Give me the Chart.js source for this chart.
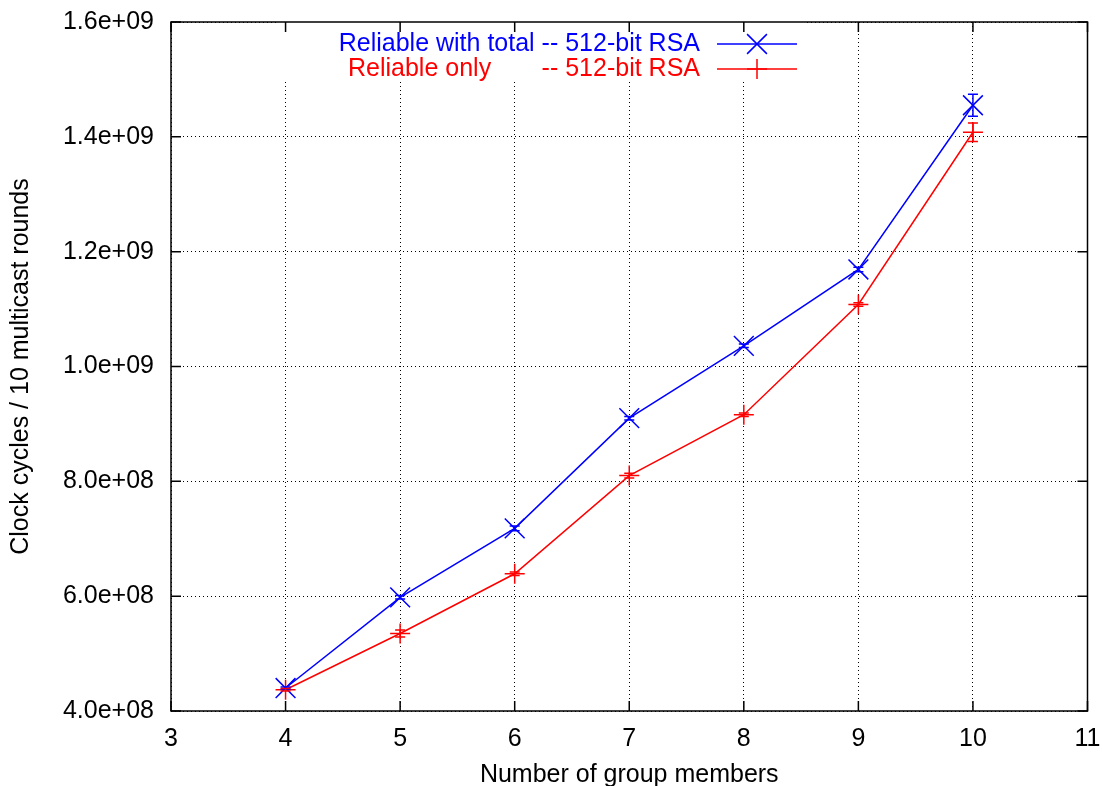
<!DOCTYPE html>
<html>
<head>
<meta charset="utf-8">
<script src="https://cdn.jsdelivr.net/npm/chart.js@4.4.1/dist/chart.umd.min.js"></script>
<style>
  html, body { margin: 0; padding: 0; background: #fff; }
  #wrap { width: 1103px; height: 786px; }
</style>
</head>
<body>
<div id="wrap"><canvas id="mainChart" width="1103" height="786"></canvas></div>
<script>
// group sizes and clock cycles per 10 multicast rounds
const members = [4, 5, 6, 7, 8, 9, 10];
const totalCycles = [4.40e8, 5.98e8, 7.18e8, 9.10e8, 1.036e9, 1.169e9, 1.455e9];
const totalErr = [2e6, 3e6, 4e6, 3e6, 3e6, 4e6, 1.9e7];
const reliableCycles = [4.37e8, 5.35e8, 6.39e8, 8.10e8, 9.16e8, 1.108e9, 1.408e9];
const reliableErr = [2e6, 6e6, 3e6, 4e6, 3e6, 3e6, 1.6e7];

const xTickLabels = ['3', '4', '5', '6', '7', '8', '9', '10', '11'];
const yTickLabels = ['4.0e+08', '6.0e+08', '8.0e+08', '1.0e+09', '1.2e+09', '1.4e+09', '1.6e+09'];

const FONT = '"Liberation Sans", Arial, Helvetica, sans-serif';
const BLUE = '#0000ff', RED = '#ff0000';

const pts = (xs, ys) => xs.map((x, i) => ({ x, y: ys[i] }));

// gnuplot look: white key box, frame with inward ticks, error bars, key
const gnuplotBits = {
  id: 'gnuplotBits',
  beforeDatasetsDraw(c) {
    const { ctx, chartArea: a, scales: { x, y } } = c;
    ctx.save();
    // key box hides the grid behind it
    ctx.fillStyle = '#fff';
    ctx.fillRect(276, a.top, 530, 60);
    // frame
    ctx.strokeStyle = '#000';
    ctx.lineWidth = 1.5;
    ctx.setLineDash([]);
    ctx.strokeRect(a.left, a.top, a.right - a.left, a.bottom - a.top);
    // inward ticks on all sides
    ctx.beginPath();
    x.ticks.forEach(t => {
      const px = x.getPixelForValue(t.value);
      ctx.moveTo(px, a.bottom); ctx.lineTo(px, a.bottom - 10);
      ctx.moveTo(px, a.top); ctx.lineTo(px, a.top + 10);
    });
    y.ticks.forEach(t => {
      const py = y.getPixelForValue(t.value);
      ctx.moveTo(a.left, py); ctx.lineTo(a.left + 10, py);
      ctx.moveTo(a.right, py); ctx.lineTo(a.right - 10, py);
    });
    ctx.stroke();
    ctx.restore();
  },
  afterDatasetsDraw(c) {
    const { ctx, scales: { x, y } } = c;
    ctx.save();
    ctx.lineWidth = 1.5;
    [[totalCycles, totalErr, BLUE], [reliableCycles, reliableErr, RED]].forEach(([vals, errs, col]) => {
      ctx.strokeStyle = col;
      ctx.beginPath();
      members.forEach((m, i) => {
        const px = x.getPixelForValue(m);
        const y1 = y.getPixelForValue(vals[i] + errs[i]);
        const y0 = y.getPixelForValue(vals[i] - errs[i]);
        ctx.moveTo(px, y0); ctx.lineTo(px, y1);
        ctx.moveTo(px - 5, y0); ctx.lineTo(px + 5, y0);
        ctx.moveTo(px - 5, y1); ctx.lineTo(px + 5, y1);
      });
      ctx.stroke();
    });

    // key
    ctx.font = '25px ' + FONT;
    ctx.textBaseline = 'middle';
    const rows = [
      { y: 44, col: BLUE, style: 'crossRot', r: 14 },
      { y: 69, col: RED, style: 'cross', r: 10 }
    ];
    ctx.fillStyle = BLUE;
    ctx.textAlign = 'right';
    ctx.fillText('Reliable with total -- 512-bit RSA', 700, rows[0].y);
    ctx.fillStyle = RED;
    ctx.fillText('-- 512-bit RSA', 700, rows[1].y);
    ctx.textAlign = 'left';
    ctx.fillText('Reliable only', 348, rows[1].y);
    rows.forEach(r => {
      ctx.strokeStyle = r.col;
      ctx.beginPath();
      ctx.moveTo(717, r.y); ctx.lineTo(797, r.y);
      ctx.stroke();
      Chart.helpers.drawPoint(ctx, { pointStyle: r.style, radius: r.r, borderWidth: 1.5 }, 757, r.y);
    });
    ctx.restore();
  }
};

const chart = new Chart(document.getElementById('mainChart'), {
  type: 'scatter',
  data: {
    datasets: [
      {
        label: 'Reliable with total -- 512-bit RSA',
        data: pts(members, totalCycles),
        showLine: true,
        borderColor: BLUE,
        backgroundColor: BLUE,
        borderWidth: 1.5,
        pointStyle: 'crossRot',
        pointRadius: 14,
        pointBorderWidth: 1.5,
        pointHoverRadius: 14
      },
      {
        label: 'Reliable only -- 512-bit RSA',
        data: pts(members, reliableCycles),
        showLine: true,
        borderColor: RED,
        backgroundColor: RED,
        borderWidth: 1.5,
        pointStyle: 'cross',
        pointRadius: 10,
        pointBorderWidth: 1.5,
        pointHoverRadius: 10
      }
    ]
  },
  options: {
    responsive: false,
    animation: false,
    devicePixelRatio: 1,
    layout: { padding: { left: 0, top: 22, right: 13, bottom: 0 } },
    plugins: { legend: { display: false }, tooltip: { enabled: false } },
    scales: {
      x: {
        type: 'linear',
        min: 3, max: 11,
        afterFit: s => { s.height = 75; s.paddingLeft = 0; s.paddingRight = 0; },
        ticks: {
          stepSize: 1,
          color: '#000',
          font: { family: FONT, size: 25 },
          padding: 13,
          maxRotation: 0,
          callback: (v, i) => xTickLabels[i]
        },
        grid: { color: '#000', lineWidth: 1, drawTicks: false },
        border: { display: false, dash: [1, 3] },
        title: {
          display: true,
          text: 'Number of group members',
          color: '#000',
          font: { family: FONT, size: 25 },
          padding: { top: 0, bottom: -4 }
        }
      },
      y: {
        type: 'linear',
        min: 4e8, max: 1.6e9,
        afterFit: s => { s.width = 171; s.paddingTop = 0; s.paddingBottom = 0; },
        ticks: {
          stepSize: 2e8,
          color: '#000',
          font: { family: FONT, size: 25 },
          padding: 17,
          callback: (v, i) => yTickLabels[i]
        },
        grid: { color: '#000', lineWidth: 1, drawTicks: false },
        border: { display: false, dash: [1, 3] },
        title: {
          display: true,
          text: 'Clock cycles / 10 multicast rounds',
          color: '#000',
          font: { family: FONT, size: 25 },
          padding: { top: 6, bottom: 0 }
        }
      }
    }
  },
  plugins: [gnuplotBits]
});
</script>
</body>
</html>
